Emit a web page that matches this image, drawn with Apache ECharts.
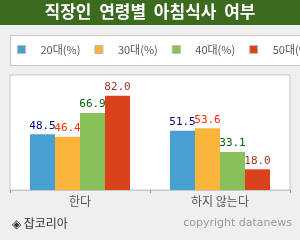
<!DOCTYPE html>
<html>
<head>
<meta charset="utf-8">
<script src="https://cdn.jsdelivr.net/npm/echarts@6/dist/echarts.min.js"></script>
<style>
  html, body { margin: 0; padding: 0; background: #efefef; }
  #chart { width: 300px; height: 240px; }
</style>
</head>
<body>
<div id="chart"></div>
<script>
// 데이터
const categories = ["한다", "하지 않는다"];
const seriesNames = ["20대(%)", "30대(%)", "40대(%)", "50대(%)"];
const age20 = [48.5, 51.5];
const age30 = [46.4, 53.6];
const age40 = [66.9, 33.1];
const age50 = [82.0, 18.0];

const barColors = ["#48a0d2", "#fbb43a", "#88c05a", "#d9421a"];
const labelColors = ["#000080", "#ff2a00", "#006400", "#a0321e"];
const values = [age20, age30, age40, age50];

const chart = echarts.init(document.getElementById("chart"));

const series = values.map((data, i) => ({
  name: seriesNames[i],
  type: "bar",
  data: data,
  barWidth: 25,
  barGap: "0%",
  itemStyle: { color: barColors[i] },
  label: {
    show: true,
    position: "top",
    distance: 3,
    formatter: (p) => p.value.toFixed(1),
    color: labelColors[i],
    fontFamily: "DejaVu Sans Mono",
    fontSize: 11,
  },
}));

chart.setOption({
  backgroundColor: "#efefef",
  animation: false,
  graphic: [
    {
      type: "rect",
      shape: { x: 0, y: 0, width: 300, height: 25 },
      style: { fill: "#3c6a1e" },
    },
    {
      type: "text",
      left: "center",
      top: 3,
      style: {
        text: "직장인  연령별  아침식사  여부",
        fill: "#fff",
        font: "bold 17px 'Noto Sans CJK KR'",
      },
    },
    {
      type: "rect",
      z: -1,
      shape: { x: 10.5, y: 35.5, width: 300, height: 30 },
      style: { fill: "#fff", stroke: "#c8c8c8", lineWidth: 1 },
    },
    {
      type: "text",
      left: 12,
      top: 217,
      style: {
        text: "◈ 잡코리아",
        fill: "#333",
        font: "12px 'Noto Sans CJK KR'",
      },
    },
    {
      type: "text",
      right: 8,
      top: 218,
      style: {
        text: "copyright datanews",
        fill: "#999",
        font: "11px 'DejaVu Sans'",
      },
    },
  ],
  legend: {
    left: 12,
    top: 39,
    width: 500,
    icon: "rect",
    itemWidth: 8,
    itemHeight: 8,
    itemGap: 14,
    itemStyle: { borderColor: "#bbb", borderWidth: 1 },
    textStyle: {
      color: "#555",
      fontSize: 11,
      fontFamily: "Noto Sans CJK KR",
      width: 45,
      padding: [0, 0, 0, 10],
    },
    data: seriesNames,
  },
  grid: {
    left: 10,
    right: 10,
    top: 75,
    bottom: 50,
    show: true,
    backgroundColor: "#fff",
    borderColor: "#c8c8c8",
    borderWidth: 1,
  },
  xAxis: {
    type: "category",
    data: categories,
    axisLine: { lineStyle: { color: "#c8c8c8", width: 1 } },
    axisTick: { show: true, length: 3, lineStyle: { color: "#999" } },
    axisLabel: {
      color: "#555",
      fontSize: 12,
      fontFamily: "Noto Sans CJK KR",
      margin: 5,
    },
  },
  yAxis: {
    type: "value",
    min: 0,
    max: 100,
    show: false,
    splitLine: { show: false },
  },
  series: series,
});
</script>
</body>
</html>
